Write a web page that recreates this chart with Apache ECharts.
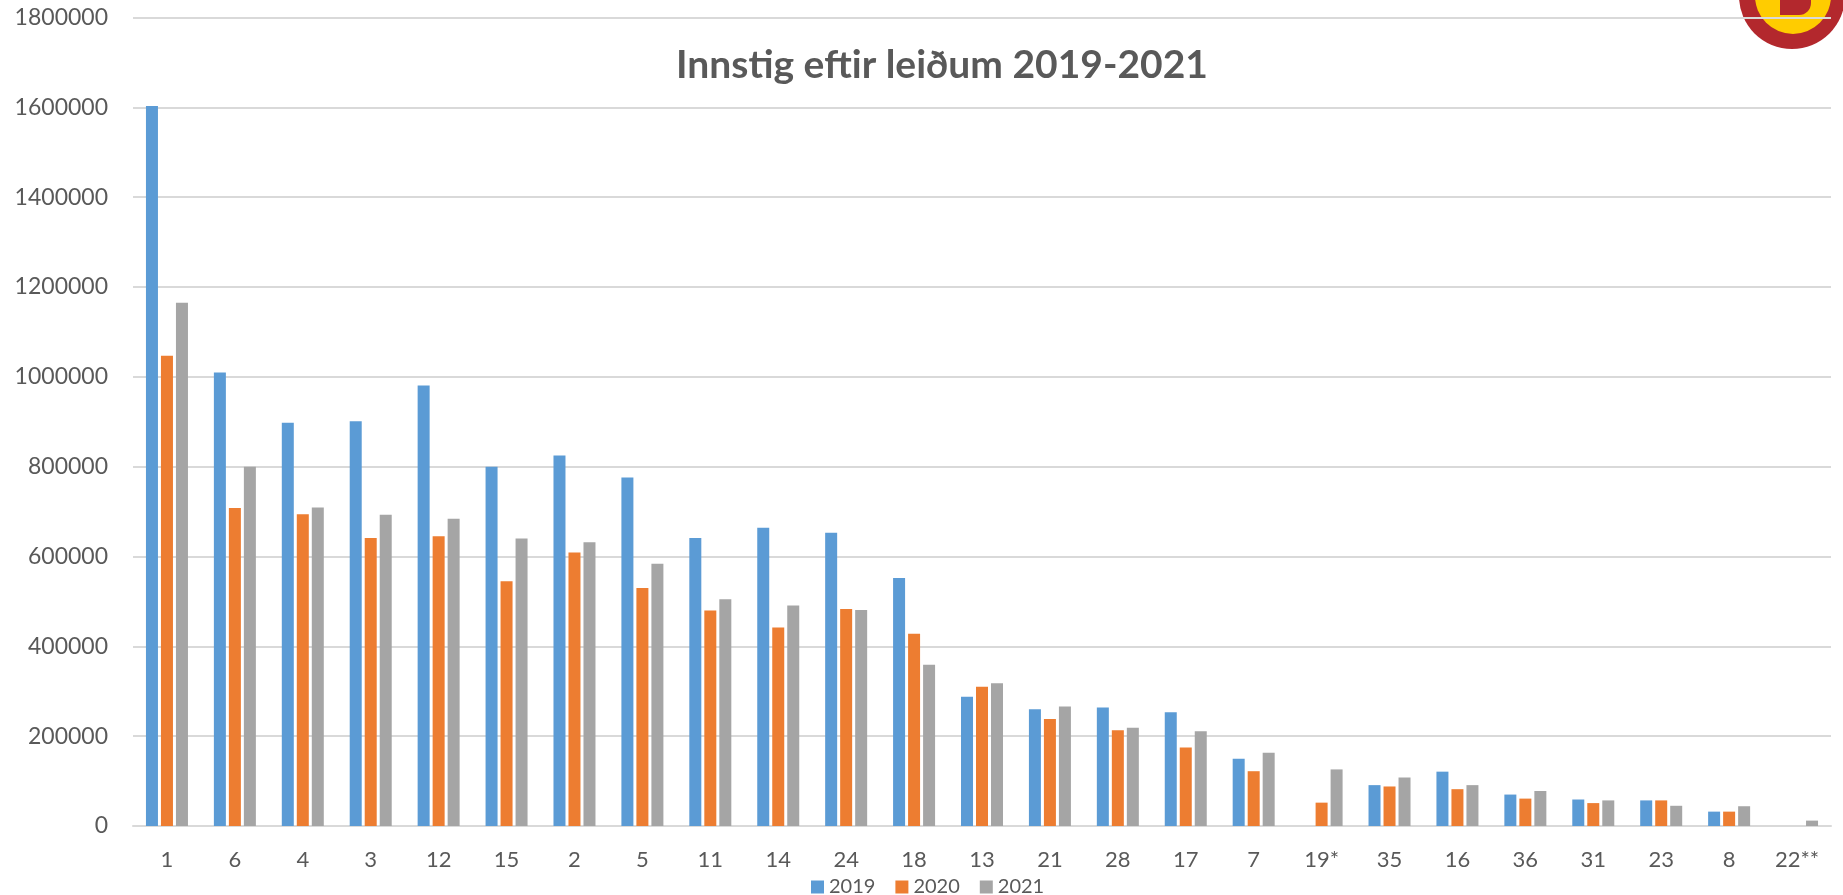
<!DOCTYPE html>
<html>
<head>
<meta charset="utf-8">
<script src="https://cdn.jsdelivr.net/npm/echarts@6/dist/echarts.min.js"></script>
<style>
  html, body { margin: 0; padding: 0; background: #fff; }
  #chart { width: 1843px; height: 895px; }
</style>
</head>
<body>
<div id="chart"></div>
<script>
// leiðir (route numbers) in the order shown
const categories = ['1', '6', '4', '3', '12', '15', '2', '5', '11', '14', '24', '18', '13', '21', '28', '17', '7', '19*', '35', '16', '36', '31', '23', '8', '22**']
const seriesNames = ['2019', '2020', '2021']
const values2019 = [1603000, 1010000, 898000, 901000, 981000, 800000, 825000, 776000, 641000, 664000, 653000, 552000, 288000, 260000, 264000, 253000, 150000, null, 91000, 121000, 70000, 59000, 57000, 32000, null]
const values2020 = [1047000, 708000, 694000, 641000, 645000, 545000, 609000, 530000, 480000, 442000, 483000, 428000, 310000, 238000, 213000, 175000, 122000, 52000, 88000, 82000, 61000, 51000, 57000, 32000, null]
const values2021 = [1165000, 800000, 709000, 693000, 684000, 640000, 632000, 584000, 505000, 491000, 481000, 359000, 318000, 266000, 219000, 211000, 163000, 126000, 108000, 91000, 78000, 57000, 45000, 44000, 12000]
const yTicks = [0, 200000, 400000, 600000, 800000, 1000000, 1200000, 1400000, 1600000, 1800000]

const colors = ['#5B9BD5', '#ED7D31', '#A5A5A5']
const textColor = '#595959'
const font = 'Lato, "Open Sans", sans-serif'

const chart = echarts.init(document.getElementById('chart'))

const makeBar = (name, data) => ({
  name: name,
  type: 'bar',
  data: data,
  barWidth: 12,
  barGap: '25%',
  z: 3
})

const option = {
  animation: false,
  color: colors,
  title: {
    text: 'Innstig eftir leiðum 2019-2021',
    left: 937,
    top: 41,
    textAlign: 'center',
    textStyle: { color: textColor, fontFamily: font, fontWeight: 'bold', fontSize: 39 }
  },
  legend: {
    data: seriesNames,
    left: 811,
    top: 877,
    icon: 'rect',
    itemWidth: 13,
    itemHeight: 13,
    itemGap: 20,
    padding: 0,
    textStyle: { color: textColor, fontFamily: font, fontSize: 20 }
  },
  grid: { left: 133, right: 12, top: 17.6, bottom: 69, containLabel: false },
  xAxis: {
    type: 'category',
    data: categories,
    axisLine: { lineStyle: { color: '#D9D9D9', width: 2 } },
    axisTick: { show: false },
    axisLabel: { color: textColor, fontFamily: font, fontSize: 22, margin: 23, interval: 0 }
  },
  yAxis: {
    type: 'value',
    min: yTicks[0],
    max: yTicks[yTicks.length - 1],
    interval: yTicks[1] - yTicks[0],
    axisLine: { show: false },
    axisTick: { show: false },
    splitLine: { lineStyle: { color: '#D9D9D9', width: 2 } },
    axisLabel: { color: textColor, fontFamily: font, fontSize: 23, margin: 25, formatter: (v) => String(v) }
  },
  // logo in the top right corner, partly cut off
  graphic: [
    { type: 'circle', z: -10, shape: { cx: 1792, cy: -4, r: 53 }, style: { fill: '#B3282D' } },
    { type: 'circle', z: -9, shape: { cx: 1793, cy: -4, r: 38 }, style: { fill: '#FFCC00' } },
    { type: 'rect', z: -8, shape: { x: 1780, y: -12, width: 31, height: 27, r: [0, 0, 12, 0] }, style: { fill: '#B3282D' } }
  ],
  series: [
    makeBar(seriesNames[0], values2019),
    makeBar(seriesNames[1], values2020),
    makeBar(seriesNames[2], values2021)
  ]
}

chart.setOption(option)
</script>
</body>
</html>
